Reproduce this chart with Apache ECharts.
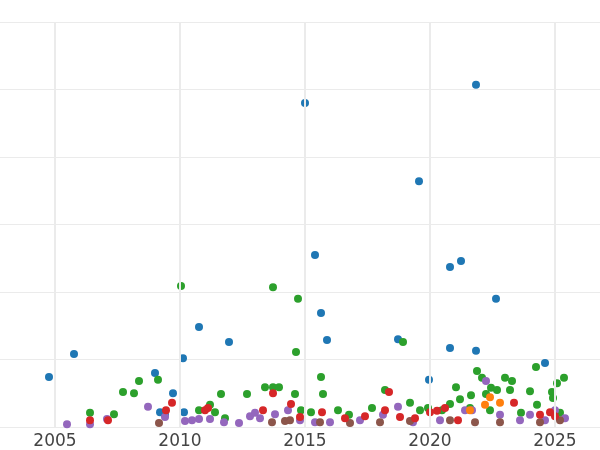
<!DOCTYPE html>
<html><head><meta charset="utf-8">
<script src="https://cdn.jsdelivr.net/npm/echarts@6/dist/echarts.min.js"></script>
<style>html,body{margin:0;padding:0;background:#fff}#c{width:600px;height:450px}</style>
</head><body><div id="c"></div>
<script>
const xTicks=[2005,2010,2015,2020,2025];
const blue=[[2004.76,0.74],[2005.76,1.08],[2009.0,0.80],[2009.72,0.50],[2010.12,1.02],[2010.16,0.22],[2010.76,1.48],[2011.96,1.26],[2015.0,4.80],[2015.4,2.55],[2015.64,1.69],[2015.88,1.29],[2018.72,1.30],[2019.56,3.64],[2019.96,0.70],[2020.8,2.37],[2020.8,1.17],[2021.24,2.46],[2021.84,5.07],[2021.84,1.13],[2022.64,1.90],[2024.6,0.95],[2009.2,0.22],[2009.4,0.18]];
const green=[[2006.4,0.21],[2007.36,0.19],[2007.72,0.52],[2008.16,0.50],[2008.36,0.68],[2009.12,0.70],[2010.04,2.09],[2010.76,0.25],[2011.2,0.33],[2011.4,0.22],[2011.64,0.49],[2011.8,0.13],[2012.68,0.49],[2013.4,0.59],[2013.72,2.07],[2013.72,0.59],[2013.96,0.59],[2014.6,0.49],[2014.72,1.90],[2014.64,1.11],[2014.84,0.25],[2015.24,0.22],[2015.64,0.74],[2015.72,0.49],[2016.32,0.25],[2016.76,0.18],[2017.68,0.28],[2018.2,0.55],[2018.92,1.26],[2019.2,0.36],[2019.6,0.25],[2019.92,0.28],[2020.48,0.25],[2020.8,0.34],[2021.04,0.59],[2021.2,0.41],[2021.64,0.47],[2021.88,0.83],[2022.08,0.73],[2022.24,0.49],[2022.44,0.58],[2022.68,0.55],[2023.0,0.73],[2023.2,0.55],[2023.28,0.68],[2023.64,0.21],[2024.0,0.53],[2024.24,0.89],[2024.28,0.33],[2024.88,0.52],[2024.92,0.43],[2025.08,0.65],[2025.36,0.73],[2025.2,0.21],[2021.6,0.28],[2022.4,0.25]];
const red=[[2006.4,0.10],[2007.12,0.10],[2009.44,0.25],[2009.68,0.36],[2011.0,0.25],[2011.12,0.28],[2013.32,0.25],[2013.72,0.50],[2014.44,0.34],[2014.8,0.15],[2015.68,0.22],[2016.6,0.13],[2017.4,0.16],[2018.2,0.25],[2018.36,0.52],[2018.8,0.15],[2019.4,0.13],[2020.0,0.22],[2020.28,0.24],[2020.6,0.28],[2021.12,0.10],[2023.36,0.36],[2024.4,0.18],[2024.8,0.22],[2025.0,0.16]];
const purple=[[2005.48,0.04],[2006.4,0.04],[2007.08,0.12],[2008.72,0.30],[2009.4,0.15],[2010.2,0.09],[2010.48,0.10],[2010.76,0.12],[2011.2,0.12],[2011.76,0.07],[2012.36,0.06],[2012.8,0.16],[2013.0,0.21],[2013.2,0.13],[2013.8,0.19],[2014.32,0.25],[2014.8,0.10],[2015.4,0.07],[2016.0,0.07],[2017.2,0.10],[2018.12,0.18],[2018.72,0.30],[2019.32,0.07],[2020.4,0.10],[2021.4,0.25],[2021.68,0.25],[2022.24,0.68],[2022.8,0.18],[2023.6,0.10],[2024.0,0.18],[2024.6,0.10],[2025.0,0.25],[2025.4,0.13]];
const brown=[[2009.16,0.06],[2013.68,0.07],[2014.2,0.09],[2014.4,0.10],[2015.6,0.07],[2016.8,0.06],[2018.0,0.07],[2019.2,0.09],[2020.8,0.10],[2021.8,0.07],[2022.8,0.07],[2024.4,0.07],[2025.2,0.10]];
const orange=[[2022.4,0.44],[2022.2,0.33],[2022.8,0.36],[2021.6,0.25]];
const mk=(d,c)=>({type:'scatter',data:d,symbolSize:8,itemStyle:{color:c,opacity:1}});
const chart=echarts.init(document.getElementById('c'));
chart.setOption({
 animation:false,
 grid:{left:0,right:0,top:22,bottom:23,containLabel:false},
 xAxis:{type:'value',min:2002.8,max:2026.8,
   axisLine:{show:false},
   axisTick:{show:false,customValues:xTicks},
   axisLabel:{customValues:xTicks,formatter:v=>String(v),fontSize:17,color:'#444',fontFamily:'DejaVu Sans',margin:6},
   splitLine:{show:false}},
 yAxis:{type:'value',min:0,max:6,interval:1,axisLabel:{show:false},axisLine:{show:false},axisTick:{show:false},
   splitLine:{lineStyle:{color:'#ebebeb',width:1}}},
 series:[
  {type:'line',data:[],markLine:{silent:true,symbol:'none',label:{show:false},lineStyle:{color:'#ebebeb',type:'solid',width:2},data:xTicks.map(v=>({xAxis:v}))}},
  mk(blue,'#1f77b4'),mk(green,'#2ca02c'),mk(purple,'#9467bd'),mk(brown,'#8c564b'),mk(orange,'#ff7f0e'),mk(red,'#d62728')
 ]
});
</script></body></html>
